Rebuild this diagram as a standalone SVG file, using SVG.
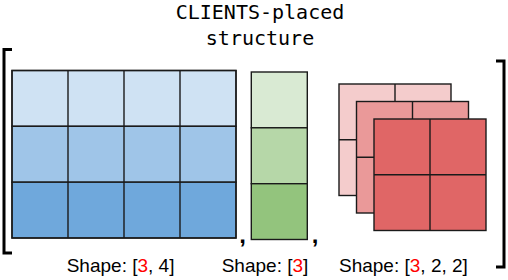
<svg xmlns="http://www.w3.org/2000/svg" width="508" height="280" viewBox="0 0 508 280">
<style>
.title{font-family:"DejaVu Sans Mono","Liberation Mono",monospace;font-size:20px;fill:#000;text-anchor:middle}
.lbl{font-family:"Liberation Sans",Arial,sans-serif;font-size:19px;fill:#000}
.red{fill:#ff0000}
.comma{font-family:"Liberation Sans",Arial,sans-serif;font-size:24px;font-weight:bold;fill:#000;text-anchor:middle}
.cell{stroke:#1a1a1a;stroke-width:1.4}
.br{fill:none;stroke:#000;stroke-width:3}
.b1{fill:#cfe2f3}.b2{fill:#9fc5e8}.b3{fill:#6fa8dc}
.g1{fill:#d9ead3}.g2{fill:#b6d7a8}.g3{fill:#93c47d}
.r1{fill:#f4cccc}.r2{fill:#ea9999}.r3{fill:#e06666}
.ln{stroke:#1a1a1a;stroke-width:1.4;fill:none}
</style>
<g id="title">
<text class="title" x="260" y="19">CLIENTS-placed</text>
<text class="title" x="260" y="45">structure</text>
</g>
<g id="brackets">
<path class="br" d="M12,49.5 H4 V253 H12"/>
<path class="br" d="M496,61 H504 V267 H496"/>
</g>
<g id="matrix">
<rect class="cell b1" x="12" y="70.5" width="224" height="55.8"/>
<rect class="cell b2" x="12" y="126.3" width="224" height="55.9"/>
<rect class="cell b3" x="12" y="182.2" width="224" height="55.8"/>
<path class="ln" d="M68,70.5 V238 M124,70.5 V238 M180,70.5 V238"/>
<rect class="ln" x="12" y="70.5" width="224" height="167.5"/>
</g>
<g id="vector">
<rect class="cell g1" x="251.3" y="72" width="56" height="55.8"/>
<rect class="cell g2" x="251.3" y="127.8" width="56" height="55.9"/>
<rect class="cell g3" x="251.3" y="183.7" width="56" height="55.8"/>
</g>
<g id="tensor">
<g id="layer-back">
<rect class="cell r1" x="339" y="84" width="112" height="111.5"/>
<path class="ln" d="M395,84 V195.5 M339,139.8 H451"/>
</g>
<g id="layer-mid">
<rect class="cell r2" x="356.5" y="101.5" width="112" height="111.5"/>
<path class="ln" d="M412.5,101.5 V213 M356.5,157.3 H468.5"/>
</g>
<g id="layer-front">
<rect class="cell r3" x="374" y="119" width="112" height="111.5"/>
<path class="ln" d="M430,119 V230.5 M374,174.8 H486"/>
</g>
</g>
<g id="separators">
<text class="comma" x="242.5" y="243">,</text>
<text class="comma" x="315" y="243">,</text>
</g>
<g id="labels">
<text class="lbl" x="66.7" y="272">Shape: [<tspan class="red">3</tspan>, 4]</text>
<text class="lbl" x="221.7" y="272">Shape: [<tspan class="red">3</tspan>]</text>
<text class="lbl" x="339" y="272">Shape: [<tspan class="red">3</tspan>, 2, 2]</text>
</g>
</svg>
